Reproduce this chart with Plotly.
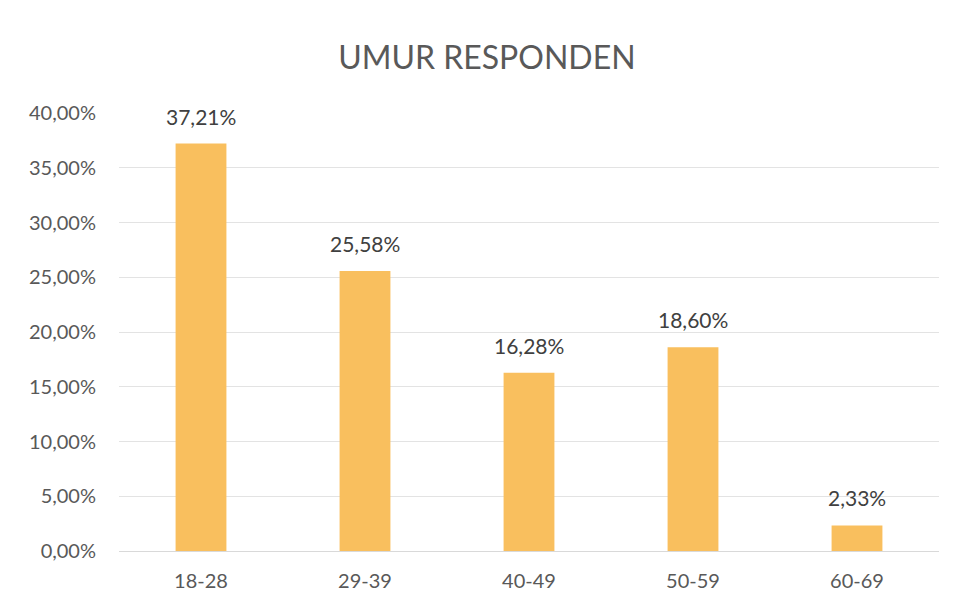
import plotly.graph_objects as go

categories = ["18-28", "29-39", "40-49", "50-59", "60-69"]
percentages = [37.21, 25.58, 16.28, 18.60, 2.33]
y_ticks = [0, 5, 10, 15, 20, 25, 30, 35, 40]
y_tick_labels = [f"{v:.2f}%".replace(".", ",") for v in y_ticks]

BAR_COLOR = "#F9BF5E"
FONT = "Lato, 'Open Sans', sans-serif"

fig = go.Figure()
fig.add_trace(
    go.Bar(
        x=categories,
        y=percentages,
        marker={"color": BAR_COLOR, "line": {"width": 0}},
        width=0.31,
        hoverinfo="x+y",
    )
)

# value labels above the bars
for cat, val in zip(categories, percentages):
    fig.add_annotation(
        x=cat,
        y=val,
        text=f"{val:.2f}%".replace(".", ","),
        showarrow=False,
        yanchor="bottom",
        yshift=13,
        font={"family": FONT, "size": 21, "color": "#404040"},
    )

fig.update_layout(
    width=954,
    height=608,
    margin={"l": 111, "r": 23, "t": 105, "b": 65},
    paper_bgcolor="white",
    plot_bgcolor="white",
    showlegend=False,
    title={
        "text": "UMUR RESPONDEN",
        "x": 0.502,
        "xanchor": "center",
        "y": 0.918,
        "yanchor": "middle",
        "font": {"family": FONT, "size": 32, "color": "#595959"},
    },
    font={"family": FONT, "color": "#595959"},
)

fig.update_xaxes(
    automargin=False,
    showgrid=False,
    showline=False,
    ticks="",
    tickfont={"size": 20, "color": "#595959"},
    ticklabelstandoff=16,
)
fig.update_yaxes(
    automargin=False,
    range=[0, 40],
    tickmode="array",
    tickvals=y_ticks,
    ticktext=y_tick_labels,
    showgrid=True,
    gridcolor="#e3e3e3",
    gridwidth=1,
    zeroline=True,
    zerolinecolor="#d9d9d9",
    zerolinewidth=1,
    showline=False,
    ticks="",
    tickfont={"size": 20, "color": "#595959"},
    ticklabelstandoff=22,
)

fig.write_html("out.html")
